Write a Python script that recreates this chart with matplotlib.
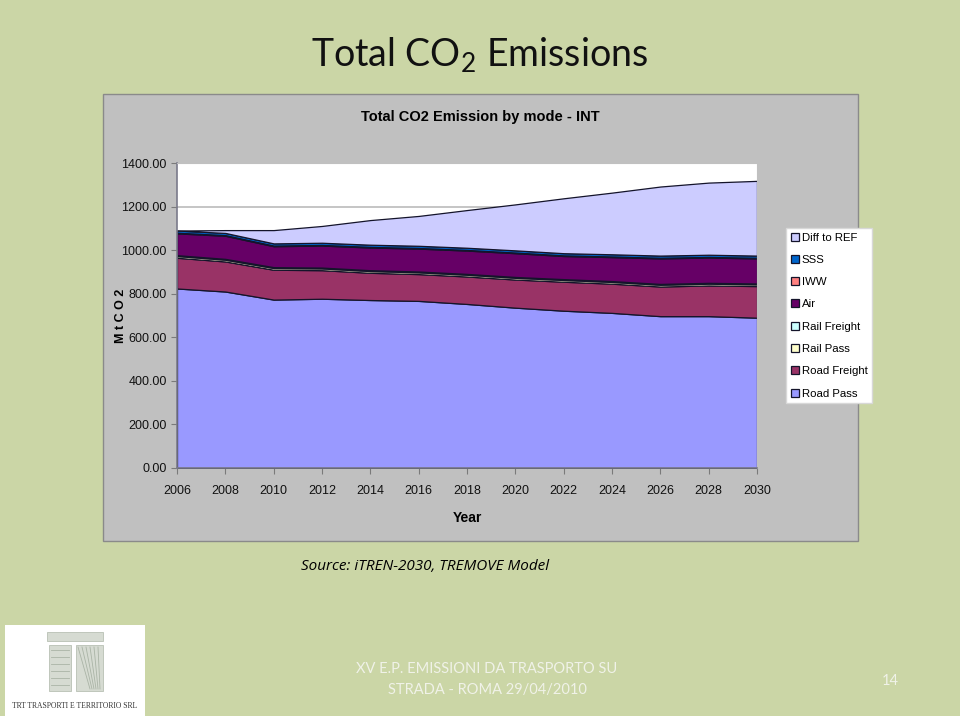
import matplotlib
matplotlib.use('Agg')
import matplotlib.pyplot as plt
from matplotlib.patches import Rectangle
from matplotlib.lines import Line2D

plt.rcParams['mathtext.fontset'] = 'custom'
plt.rcParams['mathtext.rm'] = 'Lato'

# data (MtCO2, stacked layers)
years = [2006, 2008, 2010, 2012, 2014, 2016, 2018, 2020, 2022, 2024, 2026, 2028, 2030]
road_pass = [824, 810, 773, 777, 771, 767, 753, 736, 722, 712, 697, 697, 690]
road_freight = [141, 138, 137, 131, 125, 123, 126, 129, 133, 134, 136, 141, 145]
rail_pass = [8, 8, 8, 8, 8, 8, 8, 8, 8, 8, 8, 8, 8]
rail_freight = [4, 4, 4, 4, 4, 4, 4, 4, 4, 4, 4, 4, 4]
air = [100, 106, 96, 101, 104, 105, 107, 109, 106, 110, 117, 116, 115]
iww = [3, 3, 3, 3, 3, 3, 3, 3, 3, 3, 3, 3, 3]
sss = [10, 10, 10, 10, 10, 10, 10, 10, 10, 10, 10, 10, 10]
diff_ref = [0, 13, 61, 77, 113, 137, 173, 211, 252, 283, 317, 331, 343]

series = [road_pass, road_freight, rail_pass, rail_freight, air, iww, sss, diff_ref]
names = ['Road Pass', 'Road Freight', 'Rail Pass', 'Rail Freight', 'Air', 'IWW', 'SSS', 'Diff to REF']
colors = ['#9999ff', '#993366', '#ffffcc', '#ccffff', '#660066', '#ff8080', '#0066cc', '#ccccff']

narrow = ['Liberation Sans Narrow', 'Liberation Sans', 'DejaVu Sans']
W, H = 960, 716

fig = plt.figure(figsize=(9.6, 7.16), dpi=100)
fig.patch.set_facecolor('#cbd6a6')

def fx(x):
    return x / W

def fy(y):
    return 1 - y / H

# slide title
fig.text(fx(480), fy(55), r'Total CO$_\mathrm{2}$ Emissions', ha='center', va='center',
         fontsize=27, family='Lato', color='#111111')

# gray chart panel
fig.patches.append(Rectangle((fx(103), fy(541)), 755 / W, 447 / H, transform=fig.transFigure,
                             facecolor='#c0c0c0', edgecolor='#8a8a8a', lw=1, zorder=0))

fig.text(fx(480), fy(117), 'Total CO2 Emission by mode - INT', ha='center', va='center',
         fontsize=10.5, fontweight='bold', family=narrow)

ax = fig.add_axes([fx(177), fy(468), 580 / W, 305 / H])
ax.set_zorder(3)
ax.set_facecolor('white')
ax.stackplot(years, *series, labels=names, colors=colors, edgecolor='#14142a', linewidth=0.9)

ax.set_xlim(2006, 2030)
ax.set_ylim(0, 1400)
ax.set_xticks(years)
ax.set_yticks(range(0, 1401, 200))
ax.set_yticklabels(['%.2f' % v for v in range(0, 1401, 200)])
ax.yaxis.grid(True, color='#c0c0c0', lw=1.3)
ax.set_axisbelow(True)
for s in ['top', 'right']:
    ax.spines[s].set_color('#c0c0c0')
for s in ['left', 'bottom']:
    ax.spines[s].set_color('#7a7a8a')
    ax.spines[s].set_linewidth(1.2)
ax.tick_params(axis='both', colors='#7a7a7a', length=4, labelcolor='#111111', labelsize=9)
for lab in ax.get_xticklabels() + ax.get_yticklabels():
    lab.set_family(narrow)
ax.tick_params(axis='x', pad=8)

ax.set_xlabel('Year', fontsize=10, fontweight='bold', family=narrow, labelpad=10)
fig.text(fx(121), fy(316), 'M t C O 2', rotation=90, ha='center', va='center',
         fontsize=9, fontweight='bold', family=narrow)

h, l = ax.get_legend_handles_labels()
leg = fig.legend(h[::-1], l[::-1], loc='upper left', bbox_to_anchor=(fx(786), fy(228)),
                 frameon=True, fancybox=False, edgecolor='#d8d8d8', framealpha=1,
                 handlelength=0.7, handleheight=0.7, handletextpad=0.3,
                 labelspacing=1.08, borderpad=0.4, borderaxespad=0,
                 prop={'family': narrow, 'size': 8.2})
leg.set_zorder(6)

fig.text(fx(425), fy(567), 'Source: iTREN-2030, TREMOVE Model', ha='center', va='center',
         fontsize=11, style='italic', family='Open Sans')

# footer
fig.text(fx(487), fy(669), 'XV E.P. EMISSIONI DA TRASPORTO SU', ha='center', va='center',
         fontsize=10.5, family='Lato', color='#f0f2e8')
fig.text(fx(487), fy(690), 'STRADA - ROMA 29/04/2010', ha='center', va='center',
         fontsize=10.5, family='Lato', color='#f0f2e8')
fig.text(fx(890), fy(681), '14', ha='center', va='center', fontsize=10.5, family='Lato',
         color='#f0f2e8')

# logo block
fig.patches.append(Rectangle((fx(5), fy(716)), 140 / W, 91 / H, transform=fig.transFigure,
                             facecolor='white', edgecolor='none', zorder=1))
for (x0, y0, w, hh) in [(47, 632, 56, 9), (49, 645, 22, 46), (76, 645, 27, 46)]:
    fig.patches.append(Rectangle((fx(x0), fy(y0 + hh)), w / W, hh / H, transform=fig.transFigure,
                                 facecolor='#d6dbd2', edgecolor='#b8c0b4', lw=0.6, zorder=2))
for k in range(6):
    fig.lines.append(Line2D([fx(78 + 4 * k), fx(90 + 2 * k)], [fy(647), fy(689)],
                            transform=fig.transFigure, color='#aab4a6', lw=0.6, zorder=3))
    fig.lines.append(Line2D([fx(51), fx(69)], [fy(650 + 7 * k), fy(650 + 7 * k)],
                            transform=fig.transFigure, color='#aab4a6', lw=0.6, zorder=3))
fig.text(fx(75), fy(706), 'TRT TRASPORTI E TERRITORIO SRL', ha='center', va='center',
         fontsize=5.5, family='Liberation Serif', color='#333333', zorder=4)

fig.savefig('out.png', dpi=100, facecolor=fig.get_facecolor())
